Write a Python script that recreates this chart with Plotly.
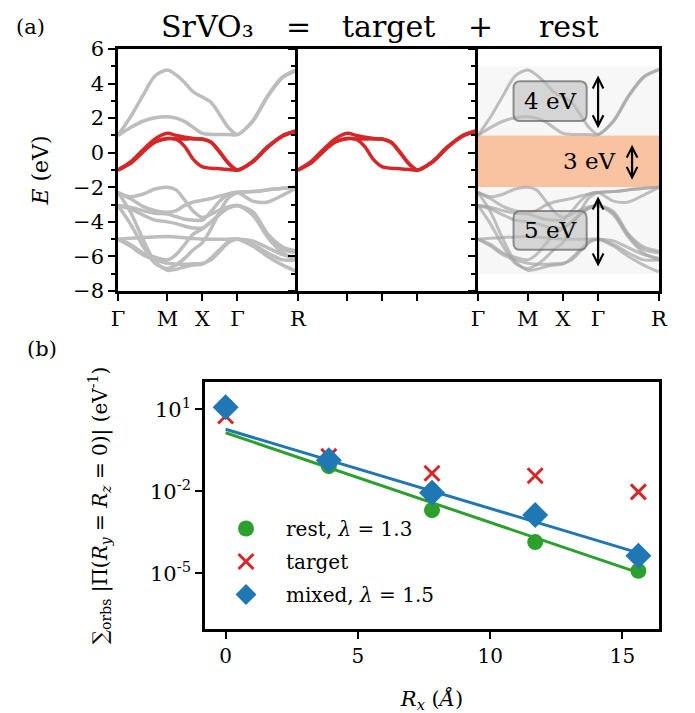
import plotly.graph_objects as go

# page is rendered with an 8 px body margin; figure sized to fit the window exactly
OFF = 8
W, H = 695 - OFF, 713 - OFF
FONT = "DejaVu Serif"

# ---------------- panel (a) data: band structure along Γ-M-X-Γ-R ----------------
kpath_labels = ["Γ", "M", "X", "Γ", "R"]
kpath_pos = [0.0, 1.414, 2.414, 3.414, 5.146]
k = [0, 0.35, 0.71, 1.06, 1.414, 1.66, 1.91, 2.16, 2.414, 2.66, 2.91, 3.16, 3.414, 3.85, 4.28, 4.71, 5.146]

# target (t2g) bands, eV
t1 = [-1.00, -0.55, 0.15, 0.80, 1.12, 1.00, 0.90, 0.82, 0.80, 0.62, 0.05, -0.60, -1.00, -0.50, 0.35, 1.00, 1.30]
t2 = [-1.00, -0.62, 0.05, 0.62, 0.82, 0.80, 0.80, 0.80, 0.78, 0.60, 0.02, -0.62, -1.00, -0.53, 0.32, 0.97, 1.28]
t3 = [-1.00, -0.62, 0.05, 0.62, 0.82, 0.78, 0.35, -0.40, -0.82, -0.90, -0.93, -0.97, -1.00, -0.53, 0.32, 0.97, 1.28]

# rest bands: upper (eg) bands
c1 = [1.00, 2.05, 3.30, 4.45, 4.78, 4.50, 4.05, 3.50, 3.22, 2.92, 2.20, 1.45, 1.05, 1.85, 3.30, 4.40, 4.82]
c2 = [1.00, 1.45, 1.82, 2.02, 2.08, 2.00, 1.80, 1.45, 1.12, 1.06, 1.05, 1.05, 1.05, 1.80, 3.25, 4.35, 4.80]
# rest bands: lower (O 2p) bands
v1 = [-2.30, -2.55, -2.40, -2.10, -2.00, -2.15, -2.75, -3.40, -3.75, -3.55, -3.30, -3.12, -3.05, -3.40, -4.70, -5.45, -5.70]
v2 = [-2.30, -2.65, -3.10, -3.35, -3.45, -3.35, -3.05, -2.85, -2.75, -2.65, -2.50, -2.38, -2.30, -2.25, -2.15, -2.05, -2.00]
v3 = [-2.30, -3.40, -5.00, -6.30, -6.80, -6.75, -6.60, -6.50, -6.45, -6.10, -5.60, -5.15, -5.00, -5.40, -6.00, -6.50, -6.90]
v4 = [-3.05, -3.15, -3.35, -3.50, -3.55, -3.70, -3.85, -3.90, -3.90, -3.40, -2.80, -2.40, -2.30, -2.80, -2.85, -2.45, -2.00]
v5 = [-3.05, -3.25, -3.60, -3.90, -4.00, -4.10, -4.25, -4.35, -4.35, -4.00, -3.55, -3.20, -3.05, -3.50, -4.80, -5.60, -5.80]
v6 = [-3.05, -4.10, -5.40, -6.40, -6.70, -6.50, -6.10, -5.60, -5.20, -4.40, -3.40, -2.60, -2.30, -2.25, -2.15, -2.05, -2.00]
v7 = [-5.00, -4.95, -4.90, -4.87, -4.85, -4.87, -4.92, -4.97, -5.00, -5.00, -5.00, -5.00, -5.00, -5.10, -5.50, -5.90, -6.10]
v8 = [-5.00, -5.30, -5.80, -6.05, -6.20, -5.90, -5.30, -4.70, -4.40, -4.00, -3.55, -3.20, -3.05, -3.60, -4.90, -5.80, -6.20]
v9 = [-5.00, -5.40, -5.90, -6.20, -6.40, -6.45, -6.45, -6.42, -6.40, -6.20, -5.70, -5.20, -5.00, -5.30, -5.80, -6.20, -6.20]

target_bands = [t1, t2, t3]
rest_bands = [c1, c2, v1, v2, v3, v4, v5, v6, v7, v8, v9]

# energy windows of the rest panel (eV)
upper_window = [1.0, 5.0]
gap_window = [-2.0, 1.0]
lower_window = [-7.0, -2.0]
window_labels = ["4 eV", "3 eV", "5 eV"]

# ---------------- panel (b) data ----------------
Rx = [0.0, 3.9, 7.8, 11.7, 15.6]
rest_vals = [13.2, 0.083, 0.00204, 1.38e-4, 1.23e-5]
target_vals = [5.7, 0.19, 0.0457, 0.0372, 0.00955]
mixed_vals = [12.0, 0.138, 0.0089, 0.00135, 4.37e-5]
fit_x = [0.0, 15.6]
rest_fit = [1.39, 1.05e-5]
mixed_fit = [1.86, 5.6e-5]
ytick_vals = [10, 1e-2, 1e-5]
ytick_text = ["10<sup>1</sup>", "10<sup>-2</sup>", "10<sup>-5</sup>"]
xtick_vals = [0, 5, 10, 15]

RED = "#d62728"
GREEN = "#2ca02c"
BLUE = "#1f77b4"
GREY = "#bdbdbd"


def fx(px):
    return (px - OFF) / W


def fy(py):
    return 1 - (py - OFF) / H


def xd(p0, p1):
    return [fx(p0), fx(p1)]


def yd(p0, p1):
    return [fy(p1), fy(p0)]


fig = go.Figure()

for b in rest_bands:
    fig.add_trace(go.Scatter(x=k, y=b, mode="lines", line=dict(color=GREY, width=3.5, shape="spline", smoothing=0.8),
                             xaxis="x", yaxis="y", showlegend=False, hoverinfo="skip"))
for b in target_bands:
    fig.add_trace(go.Scatter(x=k, y=b, mode="lines", line=dict(color=RED, width=3.5, shape="spline", smoothing=0.8),
                             xaxis="x", yaxis="y", showlegend=False, hoverinfo="skip"))
for b in target_bands:
    fig.add_trace(go.Scatter(x=k, y=b, mode="lines", line=dict(color=RED, width=3.5, shape="spline", smoothing=0.8),
                             xaxis="x2", yaxis="y2", showlegend=False, hoverinfo="skip"))
for b in rest_bands:
    fig.add_trace(go.Scatter(x=k, y=b, mode="lines",
                             line=dict(color="rgba(165,165,165,0.7)", width=3, shape="spline", smoothing=0.8),
                             xaxis="x3", yaxis="y3", showlegend=False, hoverinfo="skip"))

# panel (b)
fig.add_trace(go.Scatter(x=fit_x, y=rest_fit, mode="lines", line=dict(color=GREEN, width=3),
                         xaxis="x4", yaxis="y4", showlegend=False, hoverinfo="skip"))
fig.add_trace(go.Scatter(x=fit_x, y=mixed_fit, mode="lines", line=dict(color=BLUE, width=3),
                         xaxis="x4", yaxis="y4", showlegend=False, hoverinfo="skip"))
fig.add_trace(go.Scatter(x=Rx, y=rest_vals, mode="markers", name="rest, <i>λ</i> = 1.3", legendgroup="a",
                         marker=dict(symbol="circle", size=16, color=GREEN),
                         xaxis="x4", yaxis="y4"))
fig.add_trace(go.Scatter(x=Rx, y=target_vals, mode="markers", name="target", legendgroup="b",
                         marker=dict(symbol="x-thin", size=15, color=RED, line=dict(color=RED, width=3)),
                         xaxis="x4", yaxis="y4"))
fig.add_trace(go.Scatter(x=Rx, y=mixed_vals, mode="markers", name="mixed, <i>λ</i> = 1.5", legendgroup="c",
                         marker=dict(symbol="diamond", size=20, color=BLUE),
                         xaxis="x4", yaxis="y4"))

ax_common = dict(showline=True, linecolor="black", linewidth=2.5, mirror=True, ticks="outside",
                 tickcolor="black", tickwidth=2, ticklen=7, showgrid=False, zeroline=False,
                 tickfont=dict(family=FONT, size=21, color="black"), automargin=False)

yband = dict(ax_common, range=[-8, 6], tickmode="linear", tick0=0, dtick=2,
             minor=dict(ticks="outside", tickmode="linear", tick0=0, dtick=1, ticklen=4, tickwidth=1.5,
                        tickcolor="black", showgrid=False))
xband = dict(ax_common, range=[kpath_pos[0], kpath_pos[-1]], tickvals=kpath_pos, ticktext=kpath_labels)

fig.update_layout(
    width=W, height=H, autosize=False,
    margin=dict(l=0, r=0, t=0, b=0, pad=0, autoexpand=False),
    paper_bgcolor="white", plot_bgcolor="rgba(0,0,0,0)",
    font=dict(family=FONT, color="black"),
    xaxis=dict(xband, domain=xd(118, 298), anchor="y"),
    yaxis=dict(yband, domain=yd(49, 291), anchor="x", mirror=False,
               title=dict(text="<i>E</i> (eV)", font=dict(family=FONT, size=22), standoff=19)),
    xaxis2=dict(xband, domain=xd(298, 478), anchor="y2", showticklabels=False),
    yaxis2=dict(yband, domain=yd(49, 291), anchor="x2", showticklabels=False, mirror=False),
    xaxis3=dict(xband, domain=xd(478, 659), anchor="y3"),
    yaxis3=dict(yband, domain=yd(49, 291), anchor="x3", showticklabels=False),
    xaxis4=dict(ax_common, domain=xd(205, 659), anchor="y4", range=[-0.78, 16.38], tickvals=xtick_vals,
                tickfont=dict(family=FONT, size=20, color="black"),
                title=dict(text="<i>R<sub>x</sub></i> (<i>Å</i>)", font=dict(family=FONT, size=21), standoff=32)),
    yaxis4=dict(ax_common, domain=yd(382, 629), anchor="x4", type="log", range=[-7.04, 2.0],
                tickvals=ytick_vals, ticktext=ytick_text,
                tickfont=dict(family=FONT, size=21, color="black"),
                title=dict(text="∑<sub>orbs</sub> |Π(<i>R<sub>y</sub></i> = <i>R<sub>z</sub></i> = 0)| (eV<sup>-1</sup>)",
                           font=dict(family=FONT, size=20), standoff=38)),
    legend=dict(x=fx(206), y=fy(509), xanchor="left", yanchor="top", bgcolor="rgba(0,0,0,0)",
                font=dict(family=FONT, size=20, color="black"), itemwidth=70, tracegroupgap=4,
                traceorder="grouped"),
)

# shaded windows in the rest panel
for (lo, hi), col in zip([upper_window, gap_window, lower_window], ["#f7f7f7", "#f9c3a1", "#f7f7f7"]):
    fig.add_shape(type="rect", xref="x3 domain", yref="y3", x0=0, x1=1, y0=lo, y1=hi,
                  fillcolor=col, line=dict(width=0), layer="below")


def rounded(x0, x1, y0, y1, rx, ry):
    return (f"M {x0 + rx},{y0} L {x1 - rx},{y0} Q {x1},{y0} {x1},{y0 + ry} L {x1},{y1 - ry} "
            f"Q {x1},{y1} {x1 - rx},{y1} L {x0 + rx},{y1} Q {x0},{y1} {x0},{y1 - ry} L {x0},{y0 + ry} "
            f"Q {x0},{y0} {x0 + rx},{y0} Z")


box_k = [1.01, 3.09]
for (e0, e1), lab in zip([[1.83, 4.14], [-5.62, -3.37]], [window_labels[0], window_labels[2]]):
    fig.add_shape(type="path", xref="x3", yref="y3", path=rounded(box_k[0], box_k[1], e0, e1, 0.2, 0.4),
                  fillcolor="rgba(190,190,190,0.6)", line=dict(color="rgba(100,100,100,0.7)", width=2),
                  layer="above")
    fig.add_annotation(x=(box_k[0] + box_k[1]) / 2, y=(e0 + e1) / 2, xref="x3", yref="y3", text=lab,
                       showarrow=False, xanchor="center", yanchor="middle",
                       font=dict(family=FONT, size=23, color="black"))
fig.add_annotation(x=3.17, y=sum(gap_window) / 2, xref="x3", yref="y3", text=window_labels[1],
                   showarrow=False, xanchor="center", yanchor="middle",
                   font=dict(family=FONT, size=23, color="black"))

# double-headed arrows
for xk, (ya, yb) in [(kpath_pos[3], (4.55, 1.42)), (4.38, (0.55, -1.57)), (kpath_pos[3], (-2.45, -6.58))]:
    fig.add_annotation(x=xk, y=yb, ax=xk, ay=ya, xref="x3", yref="y3", axref="x3", ayref="y3", text="",
                       showarrow=True, arrowhead=5, startarrowhead=5, arrowside="end+start",
                       arrowsize=0.95, startarrowsize=0.95, arrowwidth=2.2, arrowcolor="black")

# titles
for txt, px in [("SrVO₃", 207), ("=", 298), ("target", 388), ("+", 480), ("rest", 569)]:
    fig.add_annotation(x=fx(px), y=fy(26), xref="paper", yref="paper", text=txt, showarrow=False,
                       xanchor="center", yanchor="middle", font=dict(family=FONT, size=30, color="black"))
fig.add_annotation(x=fx(30), y=fy(27), xref="paper", yref="paper", text="(a)", showarrow=False,
                   xanchor="center", yanchor="middle", font=dict(family=FONT, size=21, color="black"))
fig.add_annotation(x=fx(42), y=fy(349), xref="paper", yref="paper", text="(b)", showarrow=False,
                   xanchor="center", yanchor="middle", font=dict(family=FONT, size=21, color="black"))

fig.write_html("out.html")
